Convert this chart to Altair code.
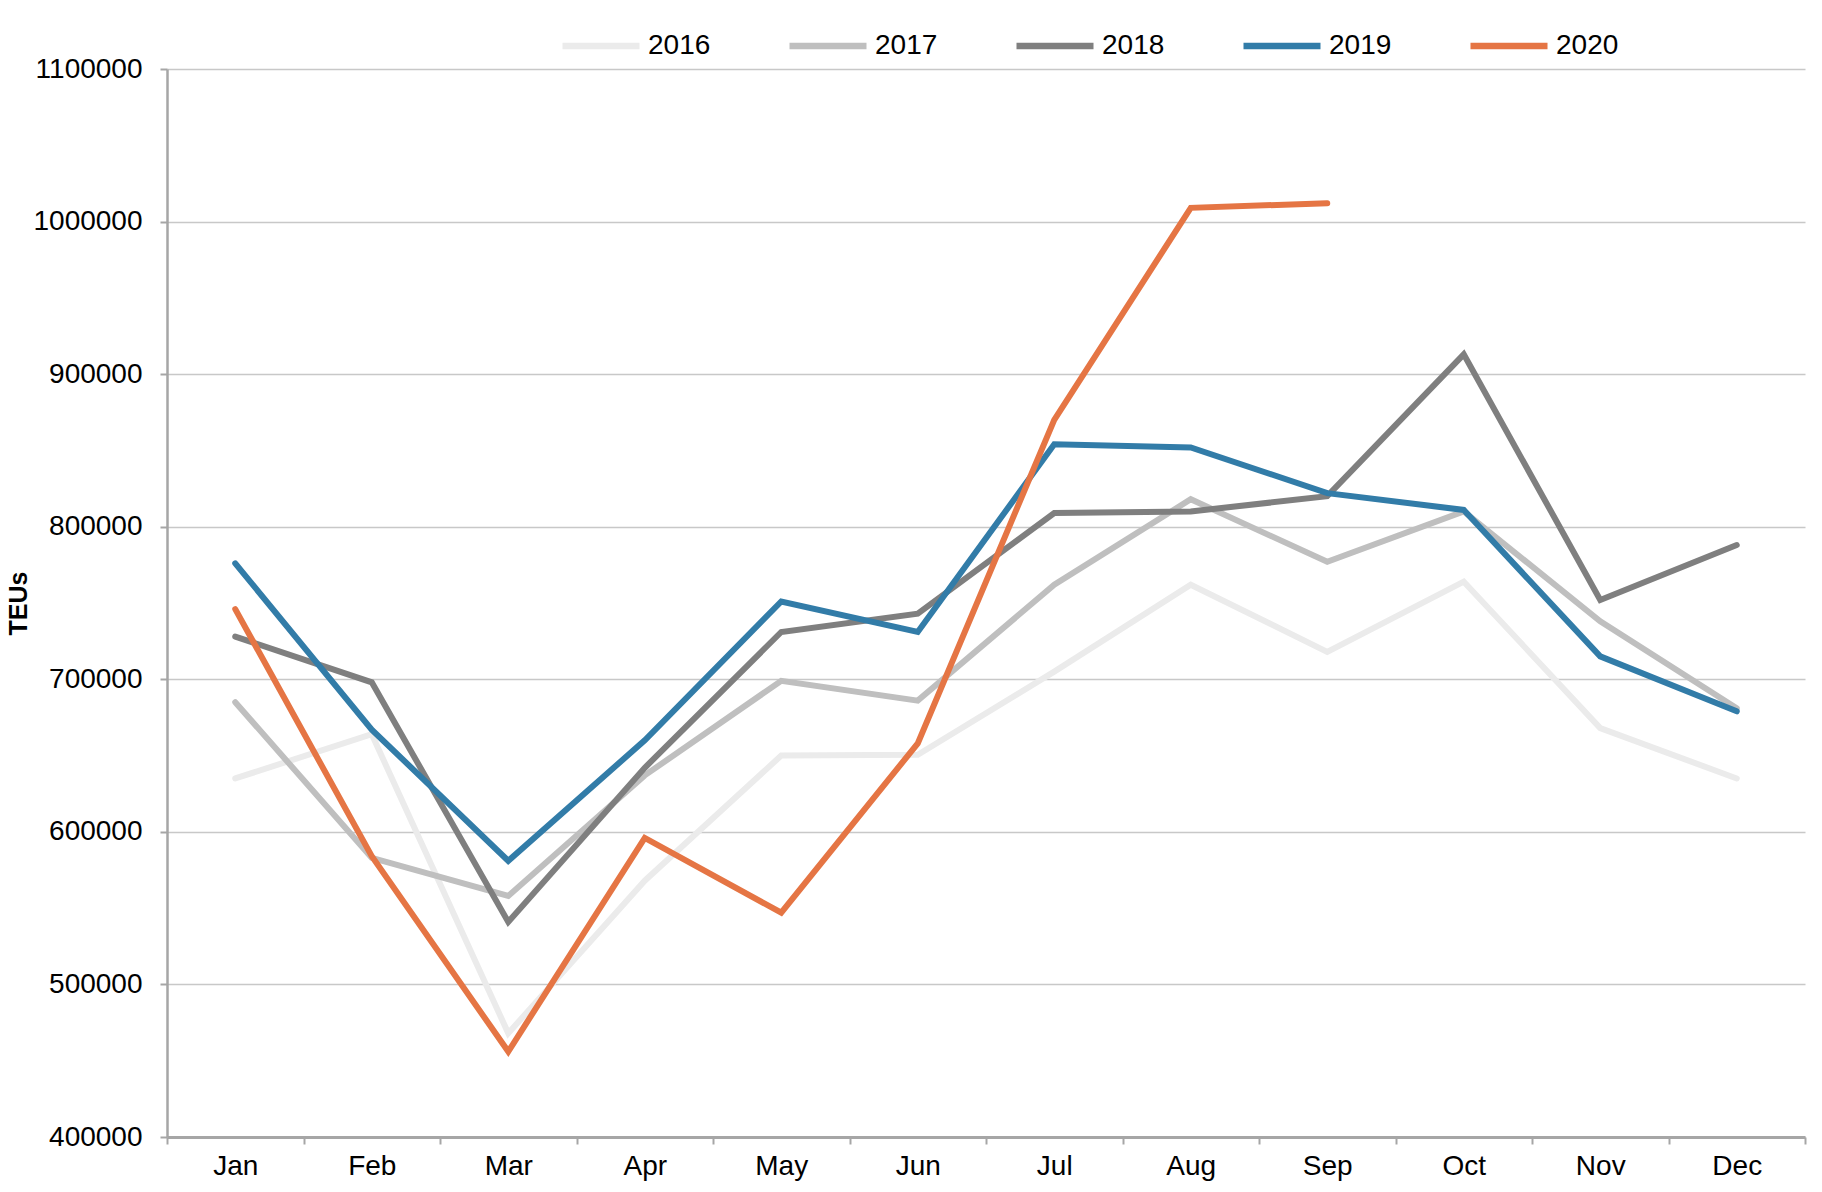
import altair as alt
import pandas as pd

months = ["Jan", "Feb", "Mar", "Apr", "May", "Jun", "Jul", "Aug", "Sep", "Oct", "Nov", "Dec"]
years = ["2016", "2017", "2018", "2019", "2020"]
colors = ["#ebebeb", "#bfbfbf", "#7f7f7f", "#327ca8", "#e57544"]

v2016 = [635000, 664000, 468000, 568000, 650000, 650500, 705000, 762000, 718000, 764000, 668000, 635000]
v2017 = [685000, 583000, 558000, 637000, 699000, 686000, 762000, 818000, 777000, 810000, 738000, 681000]
v2018 = [728000, 698000, 541000, 642000, 731000, 743000, 809000, 810000, 820000, 913000, 752000, 788000]
v2019 = [776000, 667000, 581000, 660000, 751000, 731000, 854000, 852000, 822000, 811000, 715000, 679000]
v2020 = [746000, 584000, 456000, 596000, 547000, 658000, 870000, 1009000, 1012000]

series = {"2016": v2016, "2017": v2017, "2018": v2018, "2019": v2019, "2020": v2020}
rows = []
for yr, vals in series.items():
    for i, (m, v) in enumerate(zip(months, vals)):
        rows.append({"month": m, "idx": i, "year": yr, "teu": v})
df = pd.DataFrame(rows)

FONT = "Liberation Sans"

chart = alt.Chart(df).mark_line(strokeWidth=6, strokeCap="round", strokeJoin="miter").encode(
    x=alt.X("month:O", sort=months, bandPosition=0.5,
            scale=alt.Scale(type="band", paddingInner=0, paddingOuter=0),
            axis=alt.Axis(title=None, labelAngle=0, tickBand="extent", ticks=True, tickSize=7,
                          tickColor="#a6a6a6", tickWidth=2, domainColor="#a6a6a6", domainWidth=3,
                          labelFont=FONT, labelFontSize=28, labelColor="#000000", labelPadding=8,
                          grid=False)),
    y=alt.Y("teu:Q",
            scale=alt.Scale(domain=[400000, 1100000], nice=False, zero=False),
            axis=alt.Axis(title="TEUs", values=[400000, 500000, 600000, 700000, 800000, 900000, 1000000, 1100000],
                          format="d", tickSize=7, tickColor="#a6a6a6", tickWidth=2,
                          domainColor="#a6a6a6", domainWidth=2.5,
                          labelFont=FONT, labelFontSize=28, labelColor="#000000", labelPadding=18,
                          titleFont=FONT, titleFontSize=25, titleFontWeight="bold", titleColor="#000000",
                          titleX=-141, titleY=534, titleAngle=-90, titleBaseline="alphabetic",
                          grid=True, gridColor="#c8c8c8", gridWidth=1.5)),
    color=alt.Color("year:N", scale=alt.Scale(domain=years, range=colors),
                    legend=alt.Legend(title=None, orient="none", direction="horizontal",
                                      legendX=392, legendY=-65, symbolType="stroke",
                                      symbolSize=5929, symbolStrokeWidth=6.5, labelOffset=5,
                                      columnPadding=65, labelFont=FONT, labelFontSize=28,
                                      labelColor="#000000", columns=5)),
    order=alt.Order("idx:Q"),
).properties(
    width=1638, height=1068,
    padding={"left": 159, "top": 61, "right": 5, "bottom": 45},
    autosize=alt.AutoSizeParams(type="none"),
).configure_view(stroke=None)

chart.save("out.html", embed_options={"renderer": "svg", "actions": False})
